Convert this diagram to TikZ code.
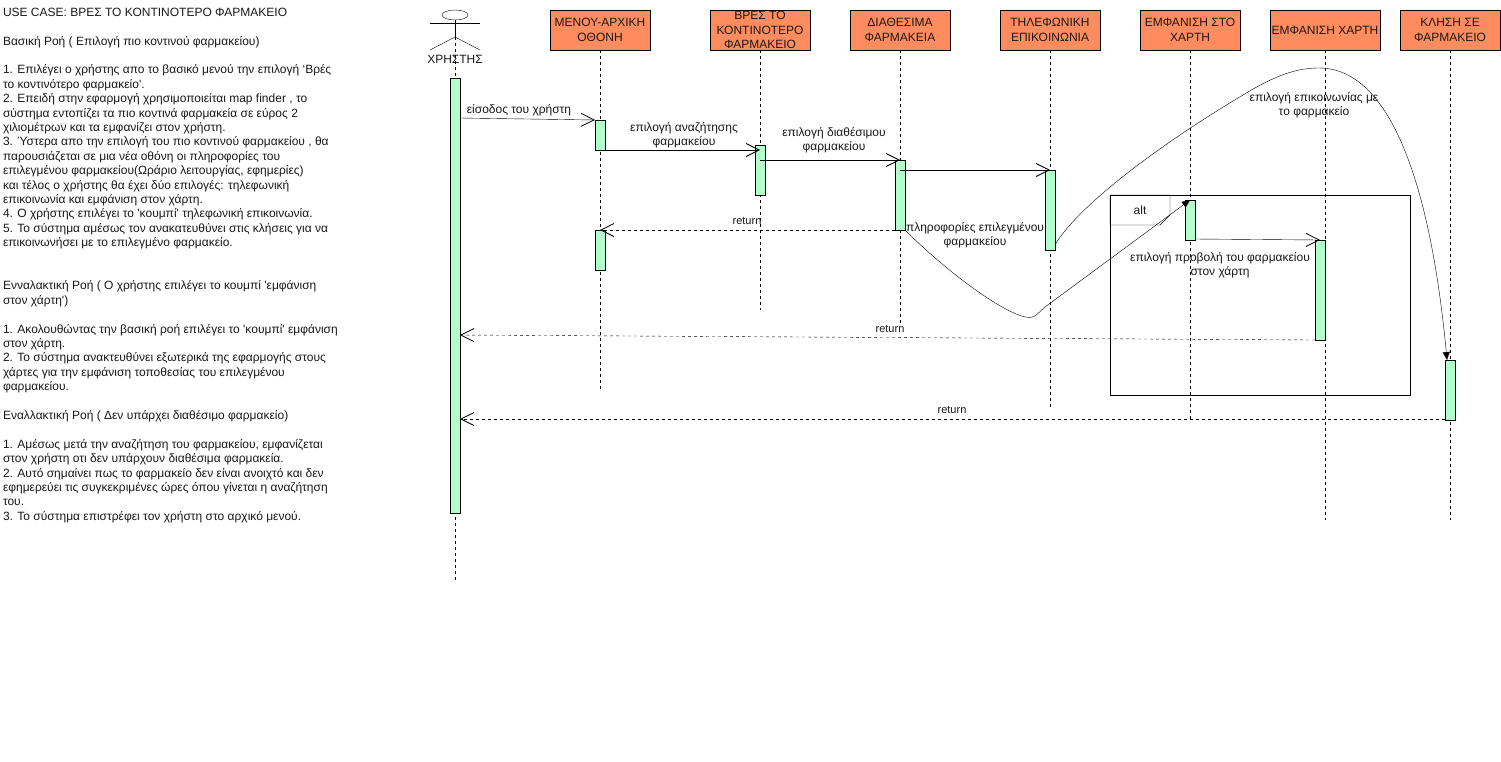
\documentclass[tikz,border=0pt]{standalone}
\usepackage{fontspec}
\newfontfamily\diagfont{Liberation Sans}
\usetikzlibrary{arrows.meta,calc,shapes.geometric}
\definecolor{headfill}{HTML}{FF8C5E}
\definecolor{barfill}{HTML}{B3FFCC}
\tikzset{
  x=1pt,y=-1pt,line width=1pt,
  txt/.style={font=\diagfont\fontsize{12}{14.4}\selectfont,align=center,inner sep=0pt,outer sep=0pt,text=black!90},
  small/.style={font=\diagfont\fontsize{11}{13.2}\selectfont,inner sep=0pt,outer sep=0pt,text=black!90},
  headbox/.style={txt,draw=black,fill=headfill,minimum height=40pt},
  bar/.style={draw=black,fill=barfill,minimum width=10pt,inner sep=0pt,outer sep=0pt},
  life/.style={draw=black,dash pattern=on 3pt off 3pt},
  msg/.style={draw=black,-{Straight Barb[length=13pt,width=13pt,line width=0.8pt]}},
  ret/.style={draw=black,dash pattern=on 3pt off 3pt,-{Straight Barb[length=13pt,width=13pt,line width=0.8pt]}},
  curvemsg/.style={draw=black,-{Triangle[length=8pt,width=7pt]}},
}
\begin{document}
\begin{tikzpicture}
\useasboundingbox[fill=white] (0,0) rectangle (1501,761);

% use case text
\node[txt,align=left,anchor=north west] (usecase) at (3,8) {USE CASE: ΒΡΕΣ ΤΟ ΚΟΝΤΙΝΟΤΕΡΟ ΦΑΡΜΑΚΕΙΟ\\[14.4pt]
Βασική Ροή ( Επιλογή πιο κοντινού φαρμακείου)\\[14.4pt]
1. Επιλέγει ο χρήστης απο το βασικό μενού την επιλογή ‘Βρές\\
το κοντινότερο φαρμακείο'.\\
2. Επειδή στην εφαρμογή χρησιμοποιείται map finder , το\\
σύστημα εντοπίζει τα πιο κοντινά φαρμακεία σε εύρος 2\\
χιλιομέτρων και τα εμφανίζει στον χρήστη.\\
3. Ύστερα απο την επιλογή του πιο κοντινού φαρμακείου , θα\\
παρουσιάζεται σε μια νέα οθόνη οι πληροφορίες του\\
επιλεγμένου φαρμακείου(Ωράριο λειτουργίας, εφημερίες)\\
και τέλος ο χρήστης θα έχει δύο επιλογές: τηλεφωνική\\
επικοινωνία και εμφάνιση στον χάρτη.\\
4. Ο χρήστης επιλέγει το 'κουμπί' τηλεφωνική επικοινωνία.\\
5. Το σύστημα αμέσως τον ανακατευθύνει στις κλήσεις για να\\
επικοινωνήσει με το επιλεγμένο φαρμακείο.\\[28.8pt]
Ενναλακτική Ροή ( Ο χρήστης επιλέγει το κουμπί 'εμφάνιση\\
στον χάρτη')\\[14.4pt]
1. Ακολουθώντας την βασική ροή επιλέγει το 'κουμπί' εμφάνιση\\
στον χάρτη.\\
2. Το σύστημα ανακτευθύνει εξωτερικά της εφαρμογής στους\\
χάρτες για την εμφάνιση τοποθεσίας του επιλεγμένου\\
φαρμακείου.\\[14.4pt]
Εναλλακτική Ροή ( Δεν υπάρχει διαθέσιμο φαρμακείο)\\[14.4pt]
1. Αμέσως μετά την αναζήτηση του φαρμακείου, εμφανίζεται\\
στον χρήστη οτι δεν υπάρχουν διαθέσιμα φαρμακεία.\\
2. Αυτό σημαίνει πως το φαρμακείο δεν είναι ανοιχτό και δεν\\
εφημερεύει τις συγκεκριμένες ώρες όπου γίνεται η αναζήτηση\\
του.\\
3. Το σύστημα επιστρέφει τον χρήστη στο αρχικό μενού.};

% alt frame
\node[draw=black,minimum width=300pt,minimum height=200pt,inner sep=0pt,outer sep=0pt] (frame) at (1260,295) {};
\draw[black] (frame.north west) -- ++(60,0) -- ++(0,20) -- ++(-10,10) -- ++(-50,0) -- cycle;
\node[small,font=\diagfont\fontsize{12}{14.4}\selectfont] (altlabel) at (1140,210) {alt};

% head boxes
\node[headbox,minimum width=100pt] (h1) at (600,30) {ΜΕΝΟΥ-ΑΡΧΙΚΗ\\ΟΘΟΝΗ};
\node[headbox,minimum width=100pt] (h2) at (760,30) {ΒΡΕΣ ΤΟ\\ΚΟΝΤΙΝΟΤΕΡΟ\\ΦΑΡΜΑΚΕΙΟ};
\node[headbox,minimum width=100pt] (h3) at (900,30) {ΔΙΑΘΕΣΙΜΑ\\ΦΑΡΜΑΚΕΙΑ};
\node[headbox,minimum width=100pt] (h4) at (1050,30) {ΤΗΛΕΦΩΝΙΚΗ\\ΕΠΙΚΟΙΝΩΝΙΑ};
\node[headbox,minimum width=100pt] (h5) at (1190,30) {ΕΜΦΑΝΙΣΗ ΣΤΟ\\ΧΑΡΤΗ};
\node[headbox,minimum width=110pt] (h6) at (1325,30) {ΕΜΦΑΝΙΣΗ ΧΑΡΤΗ};
\node[headbox,minimum width=100pt] (h7) at (1450,30) {ΚΛΗΣΗ ΣΕ\\ΦΑΡΜΑΚΕΙΟ};

% actor
\node[draw=black,ellipse,minimum width=26pt,minimum height=10pt,inner sep=0pt,outer sep=0pt] (head) at (455,15) {};
\coordinate (hip) at (455,37);
\draw[black] (head.south) -- (hip);
\draw[black] (430,23) -- (480,23);
\draw[black] (430,50) -- (hip) -- (480,50);
\node[txt] (actor) at (455,59) {ΧΡΗΣΤΗΣ};

% lifeline ends
\coordinate (e0) at (455,580);
\coordinate (e1) at (600,390);
\coordinate (e2) at (760,310);
\coordinate (e3) at (900,325);
\coordinate (e4) at (1050,407);
\coordinate (e5) at (1190,420);
\coordinate (e6) at (1325,520);
\coordinate (e7) at (1450,520);
\draw[life] (hip) -- (e0);
\draw[life] (h1.south) -- (e1);
\draw[life] (h2.south) -- (e2);
\draw[life] (h3.south) -- (e3);
\draw[life] (h4.south) -- (e4);
\draw[life] (h5.south) -- (e5);
\draw[life] (h6.south) -- (e6);
\draw[life] (h7.south) -- (e7);

% activation bars
\node[bar,minimum height=435pt] (a0) at (455,295.5) {};
\node[bar,minimum height=30pt] (a1) at (600,135) {};
\node[bar,minimum height=50pt] (a2) at (760,170) {};
\node[bar,minimum height=70pt] (a3) at (900,195) {};
\node[bar,minimum height=80pt] (a4) at (1050,210) {};
\node[bar,minimum height=40pt] (a5) at (1190,220) {};
\node[bar,minimum height=100pt] (a6) at (1320,290) {};
\node[bar,minimum height=40pt] (a7) at (600,250) {};
\node[bar,minimum height=60pt] (a8) at (1450,390) {};

% messages
\draw[msg] ($(a0.north east)+(0,40)$) -- (a1.north west);
\draw[msg] (a1.south east) -- ($(a2.north)+(0,5)$);
\draw[msg] ($(a2.north)+(0,15)$) -- (a3.north);
\draw[msg] ($(a3.north)+(0,10)$) -- (a4.north);
\draw[msg] ($(a5.south east)+(0,-1)$) -- (a6.north);
\draw[curvemsg] (a3.south east) .. controls (950,275) and (1010,318) .. (1030,317.5) .. controls (1035,317.5) and (1038,313) .. (1045,307) -- (a5.north);
\draw[curvemsg] ($(a4.south east)+(0,-5)$) .. controls (1075,210) and (1150,150) .. (1248,92) .. controls (1280,73) and (1300,68) .. (1319,68) .. controls (1395,68) and (1432,200) .. ($(a8.north west)+(2,0)$);
\draw[ret] (a3.south west) -- (a7.north);
\draw[ret] (a6.south west) -- ($(a0.north east)+(0,257)$);
\draw[ret] ($(a8.south west)+(0,-1)$) -- ($(a0.north east)+(0,341)$);

% labels
\node[txt] (l1) at (519,110) {είσοδος του χρήστη};
\node[txt] (l2) at (684,135.5) {επιλογή αναζήτησης\\φαρμακείου};
\node[txt] (l3) at (834,140.5) {επιλογή διαθέσιμου\\φαρμακείου};
\node[txt] (l4) at (975,235.5) {πληροφορίες επιλεγμένου\\φαρμακείου};
\node[txt] (l5) at (1314,105.5) {επιλογή επικοινωνίας με\\το φαρμακείο};
\node[txt] (l6) at (1220,265.5) {επιλογή προβολή του φαρμακείου\\στον χάρτη};
\node[small] (r1) at (747,221) {return};
\node[small] (r2) at (890,329) {return};
\node[small] (r3) at (952,410) {return};
\end{tikzpicture}
\end{document}
